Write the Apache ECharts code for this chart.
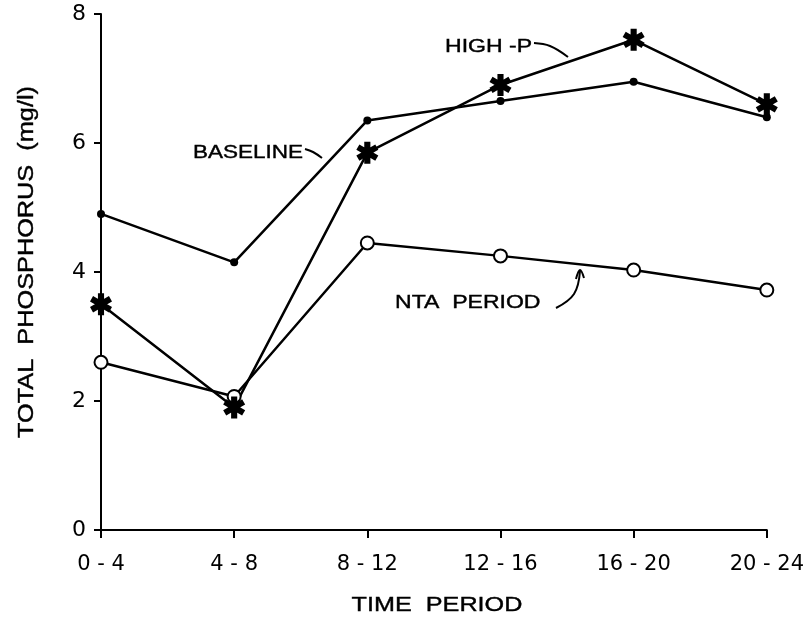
<!DOCTYPE html>
<html>
<head>
<meta charset="utf-8">
<script src="https://cdn.jsdelivr.net/npm/echarts@6/dist/echarts.min.js"></script>
<style>
  html, body { margin: 0; padding: 0; background: #fff; }
  #chart { width: 807px; height: 621px; }
</style>
</head>
<body>
<div id="chart"></div>
<script>
// Sampling periods (hours) and total phosphorus (mg/l) per treatment
const periods = ['0-4', '4-8', '8-12', '12-16', '16-20', '20-24'];
const baseline = [4.9, 4.15, 6.35, 6.65, 6.95, 6.4];
const highP = [3.5, 1.9, 5.85, 6.9, 7.6, 6.6];
const ntaPeriod = [2.6, 2.07, 4.45, 4.25, 4.03, 3.72];
const yMin = 0, yMax = 8, yStep = 2;

// six-armed asterisk marker built from three overlapping bars
const ASTERISK = 'path://M-1.4 -5 L1.4 -5 L1.4 5 L-1.4 5 Z ' +
  'M3.63 -3.71 L5.03 -1.29 L-3.63 3.71 L-5.03 1.29 Z ' +
  'M-5.03 -1.29 L-3.63 -3.71 L5.03 1.29 L3.63 3.71 Z';

const INK = '#000';
const LABEL_FONT = 'Liberation Sans, Arial, sans-serif';

const chart = echarts.init(document.getElementById('chart'), null, { renderer: 'canvas' });

const lineBase = {
  type: 'line',
  animation: false,
  color: INK,
  lineStyle: { color: INK, width: 2.5 },
  emphasis: { disabled: true }
};

function label(text, x, y, size, align, sx, rot) {
  return {
    type: 'text',
    x: x, y: y,
    rotation: rot || 0,
    scaleX: sx,
    style: {
      text: text,
      fill: INK,
      stroke: INK,
      lineWidth: 0.4,
      font: size + 'px ' + LABEL_FONT,
      align: align,
      verticalAlign: 'middle'
    },
    silent: true
  };
}

function stroke(points) {
  return {
    type: 'polyline',
    shape: { points: points, smooth: 0.4 },
    style: { stroke: INK, lineWidth: 2, fill: null },
    silent: true
  };
}

chart.setOption({
  backgroundColor: '#fff',
  animation: false,
  grid: { left: 101, right: 39, top: 14, bottom: 91 },
  xAxis: {
    type: 'category',
    data: periods,
    boundaryGap: false,
    axisLine: { lineStyle: { color: INK, width: 2 } },
    axisTick: { show: true, length: 8, lineStyle: { color: INK, width: 2 } },
    axisLabel: {
      color: INK,
      fontFamily: 'DejaVu Sans',
      fontSize: 21,
      margin: 24,
      formatter: v => v.replace('-', ' - ')
    },
    splitLine: { show: false }
  },
  yAxis: {
    type: 'value',
    min: yMin,
    max: yMax,
    interval: yStep,
    axisLine: { show: true, lineStyle: { color: INK, width: 2 } },
    axisTick: { show: true, length: 7, lineStyle: { color: INK, width: 2 } },
    axisLabel: { color: INK, fontFamily: 'DejaVu Sans', fontSize: 22, margin: 15 },
    splitLine: { show: false }
  },
  series: [
    Object.assign({}, lineBase, {
      name: 'NTA PERIOD',
      data: ntaPeriod,
      symbol: 'emptyCircle',
      symbolSize: 13,
      itemStyle: { color: INK, borderColor: INK, borderWidth: 3 }
    }),
    Object.assign({}, lineBase, {
      name: 'BASELINE',
      data: baseline,
      symbol: 'circle',
      symbolSize: 8,
      itemStyle: { color: INK }
    }),
    Object.assign({}, lineBase, {
      name: 'HIGH-P',
      data: highP,
      symbol: ASTERISK,
      symbolSize: 22,
      itemStyle: { color: INK }
    })
  ],
  graphic: [
    label('TOTAL  PHOSPHORUS  (mg/l)', 27, 262, 22, 'center', 1.15, Math.PI / 2),
    label('TIME  PERIOD', 437, 605, 21, 'center', 1.2),
    label('BASELINE', 193, 153, 18, 'left', 1.25),
    label('HIGH -P', 445, 47, 18, 'left', 1.28),
    label('NTA  PERIOD', 395, 303, 18, 'left', 1.28),
    stroke([[305, 149], [313, 152], [322, 158]]),
    stroke([[534, 43], [550, 46], [568, 57]]),
    stroke([[556, 308], [574, 294], [580, 271]]),
    stroke([[576, 279], [580, 270], [584, 278]])
  ]
});
</script>
</body>
</html>
